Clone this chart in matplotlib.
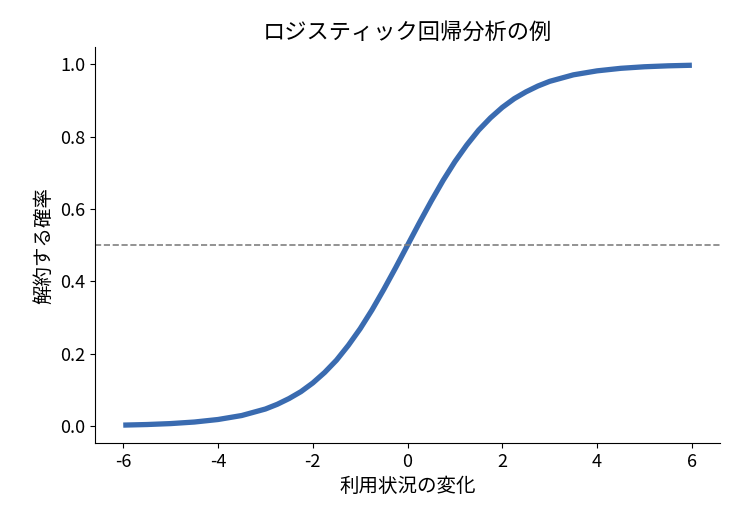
import matplotlib
matplotlib.use("Agg")
import matplotlib.pyplot as plt

plt.rcParams['font.family'] = ['Noto Sans CJK JP', 'DejaVu Sans']
plt.rcParams['axes.unicode_minus'] = False

x = [-6, -5.5, -5, -4.5, -4, -3.5, -3, -2.75, -2.5, -2.25, -2, -1.75, -1.5, -1.25, -1, -0.75, -0.5, -0.25, 0,
     0.25, 0.5, 0.75, 1, 1.25, 1.5, 1.75, 2, 2.25, 2.5, 2.75, 3, 3.5, 4, 4.5, 5, 5.5, 6]
y = [0.0025, 0.0041, 0.0067, 0.011, 0.018, 0.029, 0.047, 0.060, 0.076, 0.095, 0.119, 0.148, 0.182, 0.223, 0.269, 0.321, 0.378, 0.438, 0.5,
     0.562, 0.622, 0.679, 0.731, 0.777, 0.818, 0.852, 0.881, 0.905, 0.924, 0.940, 0.953, 0.971, 0.982, 0.989, 0.9933, 0.9959, 0.9975]
threshold = 0.5

fig = plt.figure(figsize=(7.35, 5.25), dpi=100)
ax = fig.add_axes([0.129, 0.156, 0.851, 0.754])
ax.plot(x, y, color='#3a6bb0', linewidth=3.8, solid_capstyle='butt')
ax.axhline(threshold, color='gray', linestyle='--', linewidth=1.2)
ax.set_xticks([-6, -4, -2, 0, 2, 4, 6])
ax.set_yticks([0.0, 0.2, 0.4, 0.6, 0.8, 1.0])
ax.set_title('ロジスティック回帰分析の例', fontsize=16)
ax.set_xlabel('利用状況の変化', fontsize=14)
ax.set_ylabel('解約する確率', fontsize=14)
ax.tick_params(labelsize=13)
ax.spines['top'].set_visible(False)
ax.spines['right'].set_visible(False)
fig.savefig('out.png')
